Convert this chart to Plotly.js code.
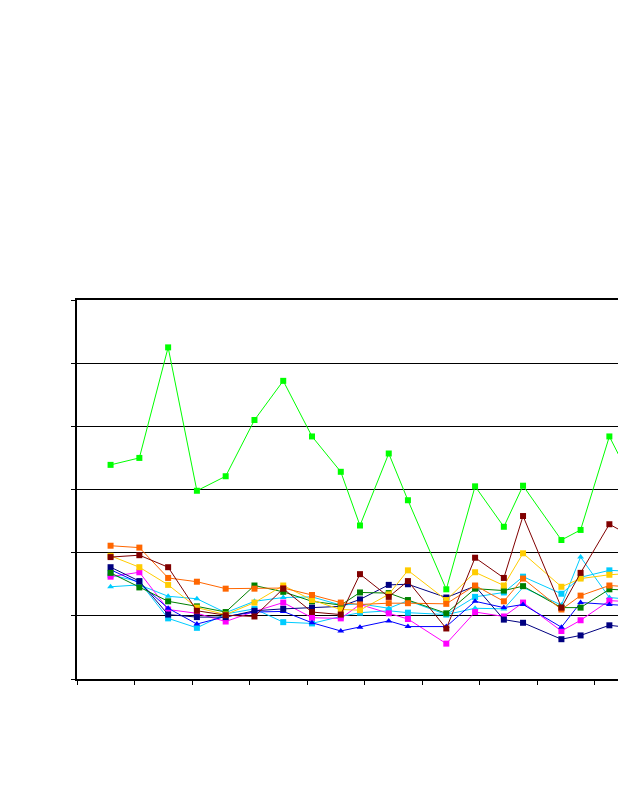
<!DOCTYPE html>
<html>
<head>
<meta charset="utf-8">
<script src="https://cdn.plot.ly/plotly-3.0.1.min.js"></script>
<style>
html,body{margin:0;padding:0;background:#fff;overflow:hidden;}
#chart{width:618px;height:800px;}
</style>
</head>
<body>
<div id="chart"></div>
<script>
// x positions (axis units, ticks every 6)
const xVals = [3.5, 6.5, 9.5, 12.5, 15.5, 18.5, 21.5, 24.5, 27.5, 29.5, 32.5, 34.5, 38.5, 41.5, 44.5, 46.5, 50.5, 52.5, 55.5, 58.5];

const limeSeries    = [3.39, 3.50, 5.25, 2.98, 3.21, 4.10, 4.72, 3.84, 3.28, 2.43, 3.57, 2.83, 1.42, 3.05, 2.41, 3.06, 2.20, 2.36, 3.84, 2.94];
const maroonSeries  = [1.93, 1.96, 1.77, 1.08, 1.01, 0.99, 1.43, 1.06, 1.02, 1.66, 1.30, 1.55, 0.80, 1.92, 1.60, 2.58, 1.13, 1.68, 2.45, 2.20];
const orangeSeries  = [2.11, 2.08, 1.60, 1.54, 1.43, 1.43, 1.44, 1.33, 1.21, 1.18, 1.20, 1.20, 1.19, 1.48, 1.23, 1.59, 1.10, 1.32, 1.48, 1.45];
const goldSeries    = [1.95, 1.77, 1.49, 1.13, 1.02, 1.21, 1.48, 1.25, 1.10, 1.09, 1.34, 1.72, 1.25, 1.69, 1.48, 1.99, 1.46, 1.59, 1.65, 1.68];
const greenSeries   = [1.68, 1.45, 1.23, 1.15, 1.06, 1.48, 1.38, 1.23, 1.17, 1.37, 1.36, 1.25, 1.04, 1.43, 1.40, 1.47, 1.13, 1.13, 1.42, 1.40];
const navySeries    = [1.77, 1.55, 1.02, 0.98, 0.98, 1.08, 1.11, 1.13, 1.15, 1.26, 1.49, 1.50, 1.29, 1.47, 0.94, 0.89, 0.63, 0.69, 0.85, 0.80];
const blueSeries    = [1.73, 1.52, 1.12, 0.87, 0.99, 1.06, 1.07, 0.89, 0.76, 0.82, 0.92, 0.83, 0.83, 1.23, 1.13, 1.18, 0.82, 1.21, 1.18, 1.15];
const magentaSeries = [1.62, 1.69, 1.10, 1.04, 0.91, 1.07, 1.21, 0.97, 0.96, 1.18, 1.04, 0.95, 0.56, 1.06, 0.99, 1.21, 0.76, 0.93, 1.24, 1.22];
const skySqSeries   = [1.65, 1.54, 0.96, 0.81, 1.03, 1.11, 0.90, 0.88, 0.99, 1.05, 1.08, 1.05, 1.02, 1.30, 1.37, 1.62, 1.35, 1.61, 1.72, 1.70];
const skyTriSeries  = [1.46, 1.49, 1.31, 1.27, 1.05, 1.23, 1.29, 1.30, 1.17, 1.19, 1.12, 1.24, 1.02, 1.12, 1.11, 1.45, 1.17, 1.93, 1.29, 1.25];

const series = [
  {y: skyTriSeries,  color: '#00CCFF', symbol: 'triangle-up'},
  {y: skySqSeries,   color: '#00CCFF', symbol: 'square'},
  {y: magentaSeries, color: '#FF00FF', symbol: 'square'},
  {y: blueSeries,    color: '#0000FF', symbol: 'triangle-up'},
  {y: navySeries,    color: '#000080', symbol: 'square'},
  {y: greenSeries,   color: '#008000', symbol: 'square'},
  {y: goldSeries,    color: '#FFCC00', symbol: 'square'},
  {y: orangeSeries,  color: '#FF6600', symbol: 'square'},
  {y: maroonSeries,  color: '#800000', symbol: 'square'},
  {y: limeSeries,    color: '#00FF00', symbol: 'square'}
];

const traces = series.map(s => ({
  type: 'scatter',
  mode: 'lines+markers',
  x: xVals,
  y: s.y,
  line: {color: s.color, width: 1},
  marker: {color: s.color, symbol: s.symbol, size: 6, line: {width: 0}},
  showlegend: false,
  hoverinfo: 'skip'
}));

const layout = {
  width: 618,
  height: 800,
  margin: {l: 77, r: 0, t: 300, b: 121, pad: 0},
  paper_bgcolor: '#ffffff',
  plot_bgcolor: '#ffffff',
  showlegend: false,
  xaxis: {
    range: [0, 56.4],
    tick0: 0,
    dtick: 6,
    showgrid: false,
    zeroline: false,
    showline: true,
    linecolor: '#000000',
    linewidth: 2,
    mirror: true,
    ticks: 'outside',
    ticklen: 4,
    tickwidth: 1,
    tickcolor: '#000000',
    showticklabels: false
  },
  yaxis: {
    range: [0, 6],
    tick0: 0,
    dtick: 1,
    showgrid: true,
    gridcolor: '#000000',
    gridwidth: 1,
    zeroline: false,
    showline: true,
    linecolor: '#000000',
    linewidth: 2,
    ticks: 'outside',
    ticklen: 4,
    tickwidth: 1,
    tickcolor: '#000000',
    showticklabels: false
  }
};

Plotly.newPlot('chart', traces, layout, {staticPlot: true, displayModeBar: false});
</script>
</body>
</html>
